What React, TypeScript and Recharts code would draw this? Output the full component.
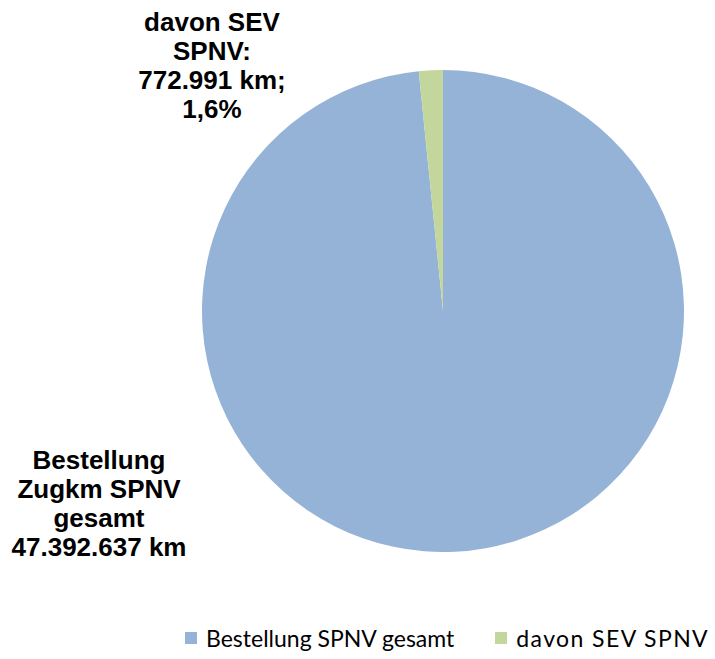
import React from 'react';
import { PieChart, Pie, Cell, Legend } from 'recharts';

const categories = ['Bestellung SPNV gesamt', 'davon SEV SPNV'];
const values = [47392637, 772991];
const colors = ['#95B3D7', '#C3D69B'];
const labelLines = [
  ['Bestellung', 'Zugkm SPNV', 'gesamt', '47.392.637 km'],
  ['davon SEV', 'SPNV:', '772.991 km;', '1,6%'],
];

const data = categories.map((name, i) => ({ name, value: values[i] }));

// label anchors relative to pie centre (x offset, first baseline offset)
const labelAnchors = [
  { dx: -344, dy: 158 },
  { dx: -231, dy: -280 },
];

const renderLabel = (props: any) => {
  const { cx, cy, index } = props;
  const a = labelAnchors[index];
  return (
    <text
      key={index}
      x={cx + a.dx}
      y={cy + a.dy}
      textAnchor="middle"
      fill="#000"
      fontFamily="'Liberation Sans', Arial, sans-serif"
      fontWeight="bold"
      fontSize={26}
    >
      {labelLines[index].map((line, j) => (
        <tspan key={j} x={cx + a.dx} dy={j === 0 ? 0 : 29}>
          {line}
        </tspan>
      ))}
    </text>
  );
};

const renderLegend = () => (
  <div style={{ display: 'flex', fontFamily: "'Gill Sans', Lato, sans-serif", fontSize: 23, color: '#000', lineHeight: '28px' }}>
    {categories.map((c, i) => (
      <div key={c} style={{ display: 'flex', alignItems: 'center', marginRight: i === 0 ? 41 : 0 }}>
        <span style={{ display: 'inline-block', width: 12, height: 12, background: colors[i], marginRight: 9 }} />
        <span style={{ letterSpacing: i === 1 ? 1.4 : 0 }}>{c}</span>
      </div>
    ))}
  </div>
);

export default function App() {
  return (
    <div style={{ position: 'absolute', left: 0, top: 0, background: '#fff' }}>
      <PieChart width={715} height={659} margin={{ top: 0, right: 0, bottom: 0, left: 0 }}>
        <Pie
          data={data}
          dataKey="value"
          nameKey="name"
          cx={443}
          cy={311}
          outerRadius={241}
          startAngle={90}
          endAngle={-270}
          stroke="none"
          label={renderLabel}
          labelLine={false}
          isAnimationActive={false}
        >
          {data.map((d, i) => (
            <Cell key={d.name} fill={colors[i]} />
          ))}
        </Pie>
        <Legend
          content={renderLegend}
          wrapperStyle={{ left: 185, top: 624, width: 'auto' }}
        />
      </PieChart>
    </div>
  );
}
